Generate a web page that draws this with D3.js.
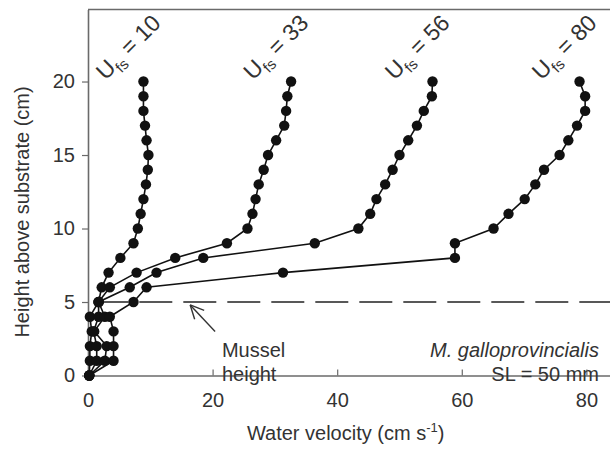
<!DOCTYPE html>
<html><head><meta charset="utf-8">
<script src="https://cdn.jsdelivr.net/npm/d3@7"></script>
<style>
body{margin:0;background:#fff}
text{font-family:"Liberation Sans",Arial,sans-serif;fill:#333}
</style>
</head><body>
<svg id="c" width="610" height="458"></svg>
<script>
// ---- data ----
const heights = [0,1,2,3,4,5,6,7,8,9,10,11,12,13,14,15,16,17,18,19,20];
const seriesLabels = ["10","33","56","80"];
const u10 = [0.2,0.3,0.3,0.6,0.3,1.7,2.2,3.3,5.2,7.3,8.0,8.45,8.9,9.3,9.6,9.7,9.4,9.15,8.9,8.9,8.9];
const u33 = [0.2,1.4,1.4,0.9,1.7,1.7,3.5,7.8,14.0,22.3,25.6,26.4,26.9,27.4,28.2,28.9,30.2,31.5,31.8,32.0,32.6];
const u56 = [0.2,2.7,3.0,1.0,2.7,1.7,6.7,11.0,18.5,36.4,43.4,45.3,46.3,47.7,48.9,50.0,51.4,52.8,53.9,55.2,55.3];
const u80 = [0.2,4.1,4.1,4.1,3.5,7.3,9.4,31.3,58.9,58.9,65.1,67.5,70.1,71.8,73.2,75.7,77.1,78.5,79.8,79.8,78.9];
const xTicks = [0,20,40,60,80];
const yTicks = [0,5,10,15,20];
const musselHeight = 5;
const xTitle = "Water velocity (cm s";
const yTitle = "Height above substrate (cm)";
const speciesName = "M. galloprovincialis";
const slText = "SL = 50 mm";

const series = [u10,u33,u56,u80].map((vals,i)=>({label:seriesLabels[i], pts: vals.map((v,j)=>({v, h:heights[j]}))}));

const svg = d3.select("#c");
const x = d3.scaleLinear().domain([0,84]).range([88,611.3]);
const y = d3.scaleLinear().domain([0,24.9]).range([375.5,9.5]);
const axisColor = "#6a6a6a";

// top border
svg.append("line").attr("x1",x(0)).attr("x2",610).attr("y1",y(24.9)).attr("y2",y(24.9))
  .attr("stroke",axisColor).attr("stroke-width",1.6);

// axes
const gx = svg.append("g").attr("transform",`translate(0,${y(0)})`)
  .call(d3.axisBottom(x).tickValues(xTicks).tickSizeInner(-6).tickSizeOuter(0).tickPadding(17));
const gy = svg.append("g").attr("transform",`translate(${x(0)},0)`)
  .call(d3.axisLeft(y).tickValues(yTicks).tickSizeInner(6).tickSizeOuter(0).tickPadding(7));
[gx,gy].forEach(g=>{
  g.select(".domain").attr("stroke",axisColor).attr("stroke-width",1.6);
  g.selectAll(".tick line").attr("stroke",axisColor).attr("stroke-width",1.2);
  g.selectAll(".tick text").style("font-size","20px").attr("fill","#333")
   .style("font-family",'"Liberation Sans",Arial,sans-serif');
});

// mussel height dashed line
svg.append("line").attr("x1",x(0)).attr("x2",610).attr("y1",y(musselHeight)).attr("y2",y(musselHeight))
  .attr("stroke","#222").attr("stroke-width",1.3).attr("stroke-dasharray","33,11").attr("stroke-dashoffset",36.7);

// series lines and points
const line = d3.line().x(d=>x(d.v)).y(d=>y(d.h));
series.forEach(s=>{
  svg.append("path").datum(s.pts).attr("d",line).attr("fill","none").attr("stroke","#111").attr("stroke-width",1.6);
});
series.forEach(s=>{
  svg.append("g").selectAll("circle").data(s.pts).join("circle")
    .attr("cx",d=>x(d.v)).attr("cy",d=>y(d.h)).attr("r",5.2).attr("fill","#111");
});

// series labels
series.forEach(s=>{
  const top = s.pts[s.pts.length-1];
  const lx = x(top.v) - 38, ly = 81;
  const t = svg.append("text").attr("transform",`translate(${lx},${ly}) rotate(-45)`)
    .style("font-size","23px");
  t.append("tspan").text("U");
  t.append("tspan").text("fs").style("font-size","15px").attr("dy",6);
  t.append("tspan").text(" = " + s.label).attr("dy",-6);
});

// arrow annotation
const tip = [x(16.4), y(4.8)], tail = [x(20.4), y(3.0)];
svg.append("line").attr("x1",tail[0]).attr("y1",tail[1]).attr("x2",tip[0]).attr("y2",tip[1])
  .attr("stroke","#333").attr("stroke-width",1.4);
const ang = Math.atan2(tail[1]-tip[1], tail[0]-tip[0]);
[0.45,-0.45].forEach(a=>{
  svg.append("line").attr("x1",tip[0]).attr("y1",tip[1])
    .attr("x2",tip[0]+15*Math.cos(ang+a)).attr("y2",tip[1]+15*Math.sin(ang+a))
    .attr("stroke","#333").attr("stroke-width",1.4);
});
svg.append("text").attr("x",x(21.5)).attr("y",357).style("font-size","20px").text("Mussel");
svg.append("text").attr("x",x(21.5)).attr("y",381).style("font-size","20px").text("height");

// species text
svg.append("text").attr("x",599).attr("y",357).attr("text-anchor","end").style("font-size","20px")
  .style("font-style","italic").text(speciesName);
svg.append("text").attr("x",599).attr("y",381).attr("text-anchor","end").style("font-size","20px").text(slText);

// axis titles
const xt = svg.append("text").attr("x",x(0)+ (x(84)-x(0))/2 - 4).attr("y",440).attr("text-anchor","middle")
  .style("font-size","20px");
xt.append("tspan").text(xTitle);
xt.append("tspan").text("-1").style("font-size","13px").attr("dy",-8);
xt.append("tspan").text(")").attr("dy",8);
svg.append("text").attr("transform","translate(29,212) rotate(-90)").attr("text-anchor","middle")
  .style("font-size","20px").text(yTitle);
</script>
</body></html>
